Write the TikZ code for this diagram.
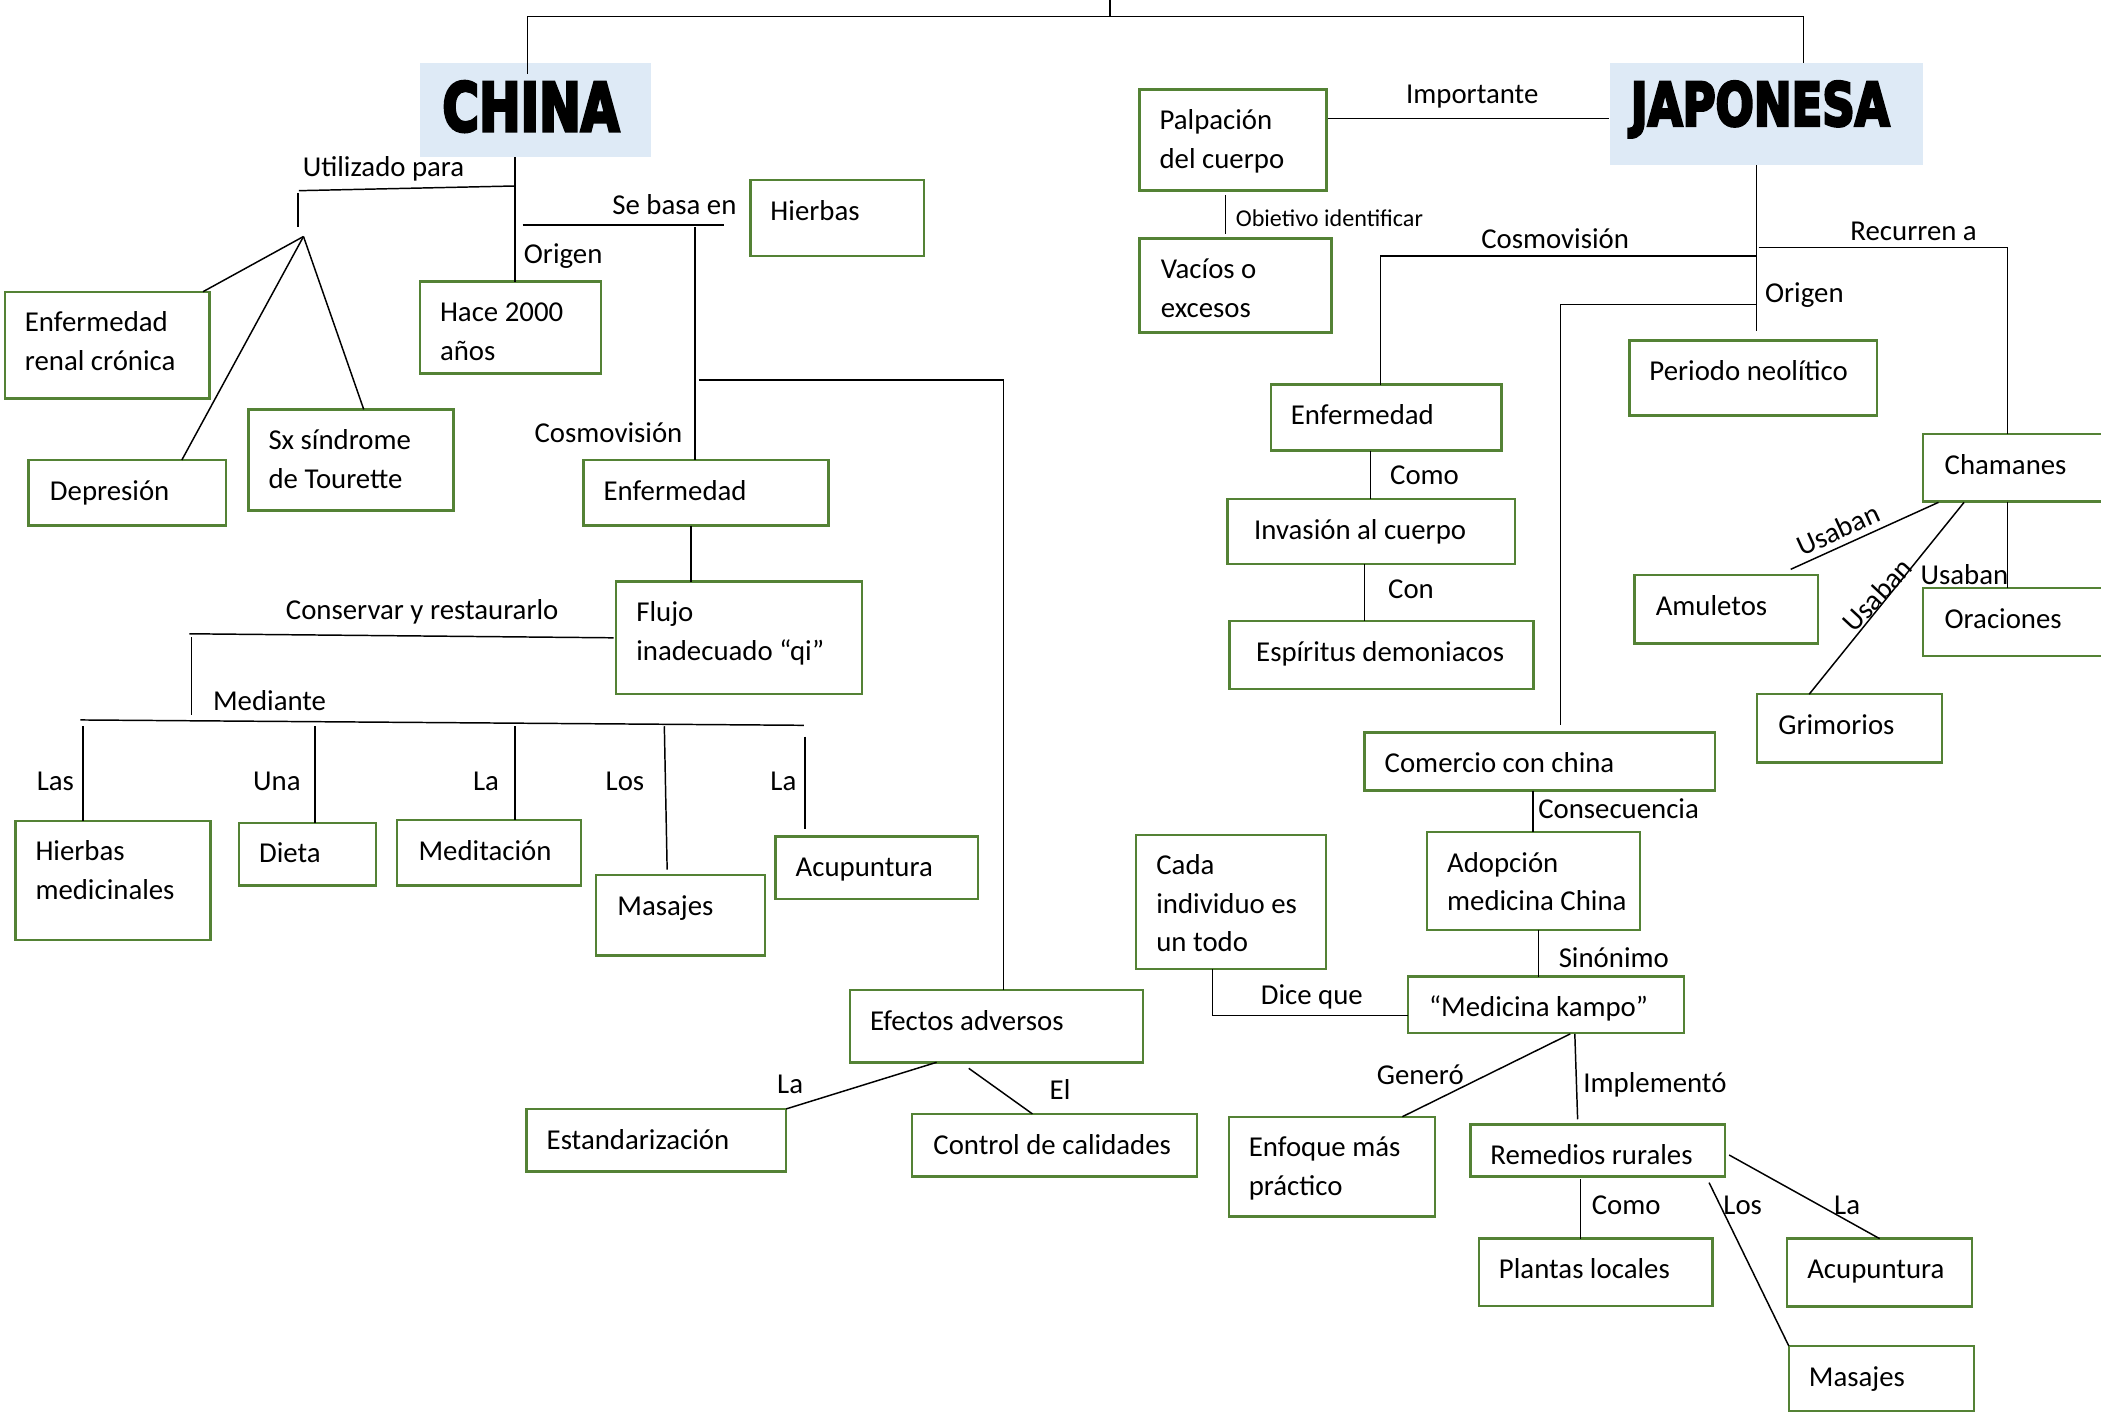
\documentclass[tikz,border=0pt]{standalone}
\usepackage{fontspec}
\setmainfont{Carlito}
\newfontfamily\titlefont{DejaVu Sans}[BoldFeatures={FakeBold=5}]
\usepackage{graphicx}
\definecolor{boxgreen}{RGB}{84,130,53}
\definecolor{titleblue}{RGB}{222,234,246}
\newcommand\twol[2]{\vtop{\hbox{#1}\hbox{#2}}}
\newcommand\threel[3]{\vtop{\hbox{#1}\hbox{#2}\hbox{#3}}}
\newcommand\bx[7][15]{%
  \node[box, anchor=north west, minimum width={#5-#3}, minimum height={#6-#4}] (#2) at (#3,#4) {};
  \node[txt] (#2t) at ({#3+#1},{#4+30}) {#7};}
\tikzset{
  box/.style={draw=boxgreen, line width=1.8pt, inner sep=0pt, outer sep=0pt},
  txt/.style={anchor=base west, inner sep=0pt, outer sep=0pt, font=\fontsize{21.5}{28.7}\selectfont},
  lbl/.style={txt, yshift=-1pt},
  con/.style={line width=1.1pt, black},
}
\begin{document}
\begin{tikzpicture}[x=1pt,y=-1pt]
\useasboundingbox (0,0) rectangle (1568,1055);
\fill[white] (0,0) rectangle (1568,1055);

% titles
\node[fill=titleblue, inner sep=0pt, anchor=north west, minimum width=173pt, minimum height=70pt] (china) at (313,47) {};
\node[anchor=north west, inner sep=0pt] (chinat) at (330,60.5) {\resizebox{132pt}{37pt}{\titlefont\bfseries CHINA}};
\node[fill=titleblue, inner sep=0pt, anchor=north west, minimum width=234pt, minimum height=76pt] (japonesa) at (1201,47) {};
\node[anchor=north west, inner sep=0pt] (japonesat) at (1217,60.5) {\resizebox{193pt}{33pt}{\titlefont\bfseries JAPONESA}};

% China boxes
\bx{renal}{3.6}{217.7}{156.5}{297.3}{\twol{Enfermedad}{renal crónica}}
\bx[16]{dep}{21.3}{343.3}{168.7}{392.3}{Depresión}
\bx{sx}{185.4}{305.5}{338.3}{381.1}{\twol{Sx síndrome}{de Tourette}}
\bx{hace}{313.4}{210.2}{448.6}{278.6}{\twol{Hace 2000}{años}}
\bx{hierbas}{560}{134.3}{689.8}{191}{Hierbas}
\bx{enfc}{435.5}{343.3}{618.3}{392.3}{Enfermedad}
\bx{flujo}{459.9}{434}{643.3}{518}{\twol{Flujo}{inadecuado “qi”}}
\bx{hmed}{11.5}{612.5}{157}{701.5}{\twol{Hierbas}{medicinales}}
\bx{dieta}{178.4}{614}{280.4}{661}{Dieta}
\bx[16]{medit}{296.4}{612}{433.4}{661}{Meditación}
\bx[16]{masc}{444.8}{653}{570.9}{713}{Masajes}
\bx{acuc}{578.8}{624.4}{729.8}{671}{Acupuntura}
\bx{efectos}{634.4}{738.8}{852.9}{793}{Efectos adversos}
\bx{estand}{393}{827.6}{586.7}{874.4}{Estandarización}
\bx[16]{control}{680.6}{831.3}{893.3}{878}{Control de calidades}

% Japan boxes
\bx{palp}{850.4}{66.7}{989.9}{142.3}{\twol{Palpación}{del cuerpo}}
\bx[16]{vac}{850.4}{177.9}{993.7}{248}{\twol{Vacíos o}{excesos}}
\bx{per}{1216}{254}{1401}{310}{Periodo neolítico}
\bx{enfj}{948.4}{287}{1120.7}{336.3}{Enfermedad}
\bx[20]{inv}{916}{372.4}{1130.7}{421.1}{Invasión al cuerpo}
\bx[20]{esp}{917.5}{463.4}{1144.5}{514}{Espíritus demoniacos}
\bx[16]{cham}{1435.3}{324.1}{1580}{374.4}{Chamanes}
\bx[16]{amu}{1219.7}{429.1}{1356.7}{480.1}{Amuletos}
\bx[16]{orac}{1435.3}{439}{1580}{489.6}{Oraciones}
\bx[16]{grim}{1311.2}{518.1}{1449.1}{569}{Grimorios}
\bx{com}{1018.4}{546.8}{1280}{590}{Comercio con china}
\bx{adop}{1065}{621}{1224}{694}{\twol{Adopción}{medicina China}}
\bx[16]{kampo}{1050.6}{728.9}{1256.7}{771.1}{“Medicina kampo”}
\bx{cada}{848}{623}{989.5}{723}{\threel{Cada}{individuo es}{un todo}}
\bx{enf2}{917}{833.4}{1070.9}{908}{\twol{Enfoque más}{práctico}}
\bx{rem}{1097.3}{839.3}{1287.5}{878.1}{Remedios rurales}
\bx{plant}{1103.7}{924.4}{1278}{974.6}{Plantas locales}
\bx{acu2}{1333.8}{924.4}{1471.7}{975.1}{Acupuntura}
\bx{mas2}{1335}{1004.5}{1473}{1053}{Masajes}

% labels
\node[lbl] (lutil) at (226,130.6) {Utilizado para};
\node[lbl] (lorig) at (391,196) {Origen};
\node[lbl] (lsebasa) at (457,159.2) {Se basa en};
\node[lbl] (lcosc) at (399,329.6) {Cosmovisión};
\node[lbl] (lcons) at (213.4,461.4) {Conservar y restaurarlo};
\node[lbl] (lmed) at (159,529) {Mediante};
\node[lbl] (llas) at (27.5,589) {Las};
\node[lbl] (luna) at (189,589) {Una};
\node[lbl] (lla1) at (353,589) {La};
\node[lbl] (llos1) at (452,589) {Los};
\node[lbl] (lla2) at (575,589) {La};
\node[lbl] (lla3) at (580,815.4) {La};
\node[lbl] (lel) at (783.4,819.6) {El};
\node[lbl] (limp) at (1049.4,75.9) {Importante};
\node[lbl, font=\fontsize{18}{22}\selectfont] (lobj) at (922.3,167.9) {Obietivo identificar};
\node[lbl] (lcosj) at (1105.5,184.1) {Cosmovisión};
\node[lbl] (lrec) at (1381,178.6) {Recurren a};
\node[lbl] (lorj) at (1317.3,225) {Origen};
\node[lbl] (lcomo1) at (1037.5,360.7) {Como};
\node[lbl] (lcon) at (1036,445.3) {Con};
\node[lbl, rotate=24.5] (lus1) at (1345,414.5) {Usaban};
\node[lbl, rotate=47] (lus2) at (1384,472) {Usaban};
\node[lbl] (lus3) at (1433.4,435.3) {Usaban};
\node[lbl] (lcons2) at (1148,610) {Consecuencia};
\node[lbl] (lsin) at (1163.3,721.4) {Sinónimo};
\node[lbl] (ldice) at (941,748.8) {Dice que};
\node[lbl] (lgen) at (1027.6,808.4) {Generó};
\node[lbl] (limpl) at (1181.7,814.7) {Implementó};
\node[lbl] (lcomo2) at (1188,905.5) {Como};
\node[lbl] (llos2) at (1286.2,905.5) {Los};
\node[lbl] (lla4) at (1368.9,905.5) {La};

% coordinates
\coordinate (t0) at (828.5,0);
\coordinate (t1) at (828.5,12.5);
\coordinate (tl) at (393.5,12.5);
\coordinate (tlb) at (393.5,55);
\coordinate (tr) at (1346,12.5);
\coordinate (cx) at (384.4,0);
\coordinate (u0) at (384.4,138.8);
\coordinate (u1) at (223,142.3);
\coordinate (u2) at (222.5,144.3);
\coordinate (u3) at (222.5,169.2);
\coordinate (uj) at (226.5,176.5);
\coordinate (s0) at (390,168);
\coordinate (s1) at (540,168);
\coordinate (sv) at (518.8,169.6);
\coordinate (h0) at (521.5,283.6);
\coordinate (h1) at (749,283.6);
\coordinate (fx) at (515.6,0);
\coordinate (k1) at (141.4,473);
\coordinate (k2) at (143,475.6);
\coordinate (k3) at (143,533.6);
\coordinate (m0) at (60,537.3);
\coordinate (m1) at (600,541.3);
\coordinate (v1) at (62,542);
\coordinate (v2) at (235,542);
\coordinate (v3) at (384.4,542);
\coordinate (v4) at (495.8,542);
\coordinate (v4b) at (497.9,649);
\coordinate (v5) at (600.8,549.8);
\coordinate (v5b) at (600.8,618.8);
\coordinate (e0) at (699,792.8);
\coordinate (e1) at (723,797.3);
\coordinate (i0) at (991.3,88.3);
\coordinate (o0) at (914.6,145.5);
\coordinate (o1) at (914.6,174.9);
\coordinate (jx) at (1311,0);
\coordinate (j1) at (1311,247);
\coordinate (c0) at (1311,191);
\coordinate (c1) at (1030.3,191);
\coordinate (r0) at (1312.4,184.8);
\coordinate (r1) at (1498.3,184.8);
\coordinate (g0) at (1311,227.1);
\coordinate (g1) at (1164.5,227.1);
\coordinate (g2) at (1164.5,541);
\coordinate (cm) at (1022.7,0);
\coordinate (cn) at (1018.4,0);
\coordinate (ua) at (1446.7,374.9);
\coordinate (ub) at (1336.4,424.9);
\coordinate (uc) at (1465.8,374.9);
\coordinate (cx2) at (1144,0);
\coordinate (sx2) at (1148.3,0);
\coordinate (d0) at (904.8,758);
\coordinate (gn) at (1171.9,771.6);
\coordinate (im0) at (1175.3,771.6);
\coordinate (im1) at (1177.4,835.3);
\coordinate (cm2) at (1179.6,880);
\coordinate (lo0) at (1275.5,882.6);
\coordinate (la0) at (1290.5,862);

% connectors - top
\draw[con] (t0) -- (t1);
\draw[con] (tl) -- (tr);
\draw[con] (tl) -- (tlb);
\draw[con] (tr) -- (tr |- japonesa.north);
% China
\draw[con] (china.south -| cx) -- (hace.north -| cx);
\draw[con] (u0) -- (u1);
\draw[con] (u2) -- (u3);
\draw[con] (uj) -- ([xshift=-5pt]renal.north east);
\draw[con] (uj) -- ([xshift=40.7pt]dep.north);
\draw[con] (uj) -- ([xshift=9.6pt]sx.north);
\draw[con] (s0) -- (s1);
\draw[con] (sv) -- (enfc.north -| sv);
\draw[con] (h0) -- (h1) -- (efectos.north -| h1);
\draw[con] (enfc.south -| fx) -- (flujo.north -| fx);
\draw[con] ([xshift=-2pt]flujo.west) -- (k1);
\draw[con] (k2) -- (k3);
\draw[con] (m0) -- (m1);
\draw[con] (v1) -- (hmed.north -| v1);
\draw[con] (v2) -- (dieta.north -| v2);
\draw[con] (v3) -- (medit.north -| v3);
\draw[con] (v4) -- (v4b);
\draw[con] (v5) -- (v5b);
\draw[con] (e0) -- (estand.north east);
\draw[con] (e1) -- ([xshift=-16.45pt]control.north);
% Japan
\draw[con] (i0) -- (japonesa.west |- i0);
\draw[con] (o0) -- (o1);
\draw[con] (japonesa.south -| jx) -- (j1);
\draw[con] (c0) -- (c1) -- (enfj.north -| c1);
\draw[con] (r0) -- (r1) -- (cham.north -| r1);
\draw[con] (g0) -- (g1) -- (g2);
\draw[con] (enfj.south -| cm) -- (inv.north -| cm);
\draw[con] (inv.south -| cn) -- (esp.north -| cn);
\draw[con] (cham.south -| r1) -- (orac.north -| r1);
\draw[con] (ua) -- (ub);
\draw[con] (uc) -- ([xshift=-29.95pt]grim.north);
\draw[con] (com.south -| cx2) -- (adop.north -| cx2);
\draw[con] (adop.south -| sx2) -- (kampo.north -| sx2);
\draw[con] (cada.south -| d0) -- (d0) -- (kampo.west |- d0);
\draw[con] (gn) -- ([xshift=52.65pt]enf2.north);
\draw[con] (im0) -- (im1);
\draw[con] (cm2) -- (plant.north -| cm2);
\draw[con] (lo0) -- (mas2.north west);
\draw[con] (la0) -- (acu2.north);
\end{tikzpicture}
\end{document}
